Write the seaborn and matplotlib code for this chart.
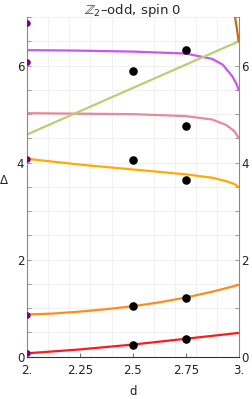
import numpy as np
import pandas as pd
import seaborn as sns
import matplotlib.pyplot as plt
from matplotlib.ticker import MultipleLocator, FixedLocator

sns.set_theme(style="whitegrid")
plt.rcParams['font.family'] = ['DejaVu Sans']

# curves: Delta vs d
d_low = [2.0, 2.125, 2.25, 2.375, 2.5, 2.625, 2.75, 2.875, 3.0]
red_vals = [0.07, 0.11, 0.15, 0.20, 0.25, 0.31, 0.37, 0.43, 0.49]
orange_vals = [0.87, 0.89, 0.93, 0.98, 1.04, 1.12, 1.22, 1.34, 1.48]

d_up = [2.0, 2.25, 2.5, 2.75, 2.875, 2.94, 2.98, 3.0]
gold_vals = [4.08, 3.96, 3.86, 3.76, 3.69, 3.62, 3.56, 3.50]
pink_vals = [5.02, 5.01, 5.00, 4.96, 4.89, 4.78, 4.65, 4.51]

d_mag = [2.0, 2.25, 2.5, 2.75, 2.875, 2.925, 2.97, 2.99, 3.0]
mag_vals = [6.32, 6.31, 6.29, 6.25, 6.14, 6.02, 5.78, 5.62, 5.50]

d_green = [2.0, 3.0]
green_vals = [4.58, 6.50]

d_brown = [2.983, 2.992, 3.0]
brown_vals = [7.0, 6.75, 6.5]

# black points (numerical data)
pts_d = [2.5, 2.5, 2.5, 2.5, 2.75, 2.75, 2.75, 2.75, 2.75]
pts_delta = [0.25, 1.04, 4.05, 5.89, 0.37, 1.22, 3.65, 4.76, 6.32]

# purple points at d=2
p2_d = [2.0, 2.0, 2.0, 2.0, 2.0]
p2_delta = [0.07, 0.87, 4.08, 6.08, 6.88]

curves = [
    (d_low, red_vals, "#FF1A1A"),
    (d_low, orange_vals, "#FF8C1A"),
    (d_up, gold_vals, "#FFAA00"),
    (d_up, pink_vals, "#E8879E"),
    (d_mag, mag_vals, "#CC55F0"),
    (d_green, green_vals, "#B8D070"),
    (d_brown, brown_vals, "#CC6A10"),
]

fig = plt.figure(figsize=(2.52, 3.99), dpi=100)
ax = fig.add_axes([0.107, 0.106, 0.840, 0.851])

for xs, ys, col in curves:
    df = pd.DataFrame({"d": xs, "D": ys})
    sns.lineplot(data=df, x="d", y="D", color=col, linewidth=1.6, ax=ax)

sns.scatterplot(x=p2_d, y=p2_delta, color="#800080", s=22, linewidth=0, ax=ax, zorder=5)
sns.scatterplot(x=pts_d, y=pts_delta, color="black", s=38, linewidth=0, ax=ax, zorder=6)

ax.set_xlim(2, 3)
ax.set_ylim(0, 7)
ax.xaxis.set_major_locator(FixedLocator([2, 2.25, 2.5, 2.75, 3]))
ax.set_xticklabels(["2.", "2.25", "2.5", "2.75", "3."])
ax.yaxis.set_major_locator(FixedLocator([0, 2, 4, 6]))
ax.yaxis.set_minor_locator(MultipleLocator(0.5))
ax.xaxis.set_minor_locator(MultipleLocator(0.1))

ax.grid(False)
ax.grid(which="minor", color="#F0F0F0", linewidth=0.7)
ax.grid(which="major", axis="y", color="#F0F0F0", linewidth=0.7)

ax.tick_params(axis="both", which="both", direction="in", labelsize=8.5, colors="#222222")
ax.tick_params(axis="y", which="both", right=True, labelright=True, left=True, length=3, width=0.6, color="#888888", pad=2)
ax.tick_params(axis="x", which="major", bottom=True, length=3, width=0.6, color="#555555", pad=5)
ax.tick_params(axis="x", which="minor", bottom=False)

for side in ["left", "right"]:
    ax.spines[side].set_color("#888888")
    ax.spines[side].set_linewidth(0.8)
ax.spines["bottom"].set_color("#333333")
ax.spines["bottom"].set_linewidth(0.8)
ax.spines["top"].set_visible(False)

ax.set_xlabel("d", fontsize=8.5, labelpad=6)
ax.set_ylabel("Δ", fontsize=8.5, rotation=0, labelpad=9)
ax.set_title(r"$\mathbb{Z}_2$–odd, spin 0", fontsize=9.5, pad=2)

fig.savefig("out.png", dpi=100)
